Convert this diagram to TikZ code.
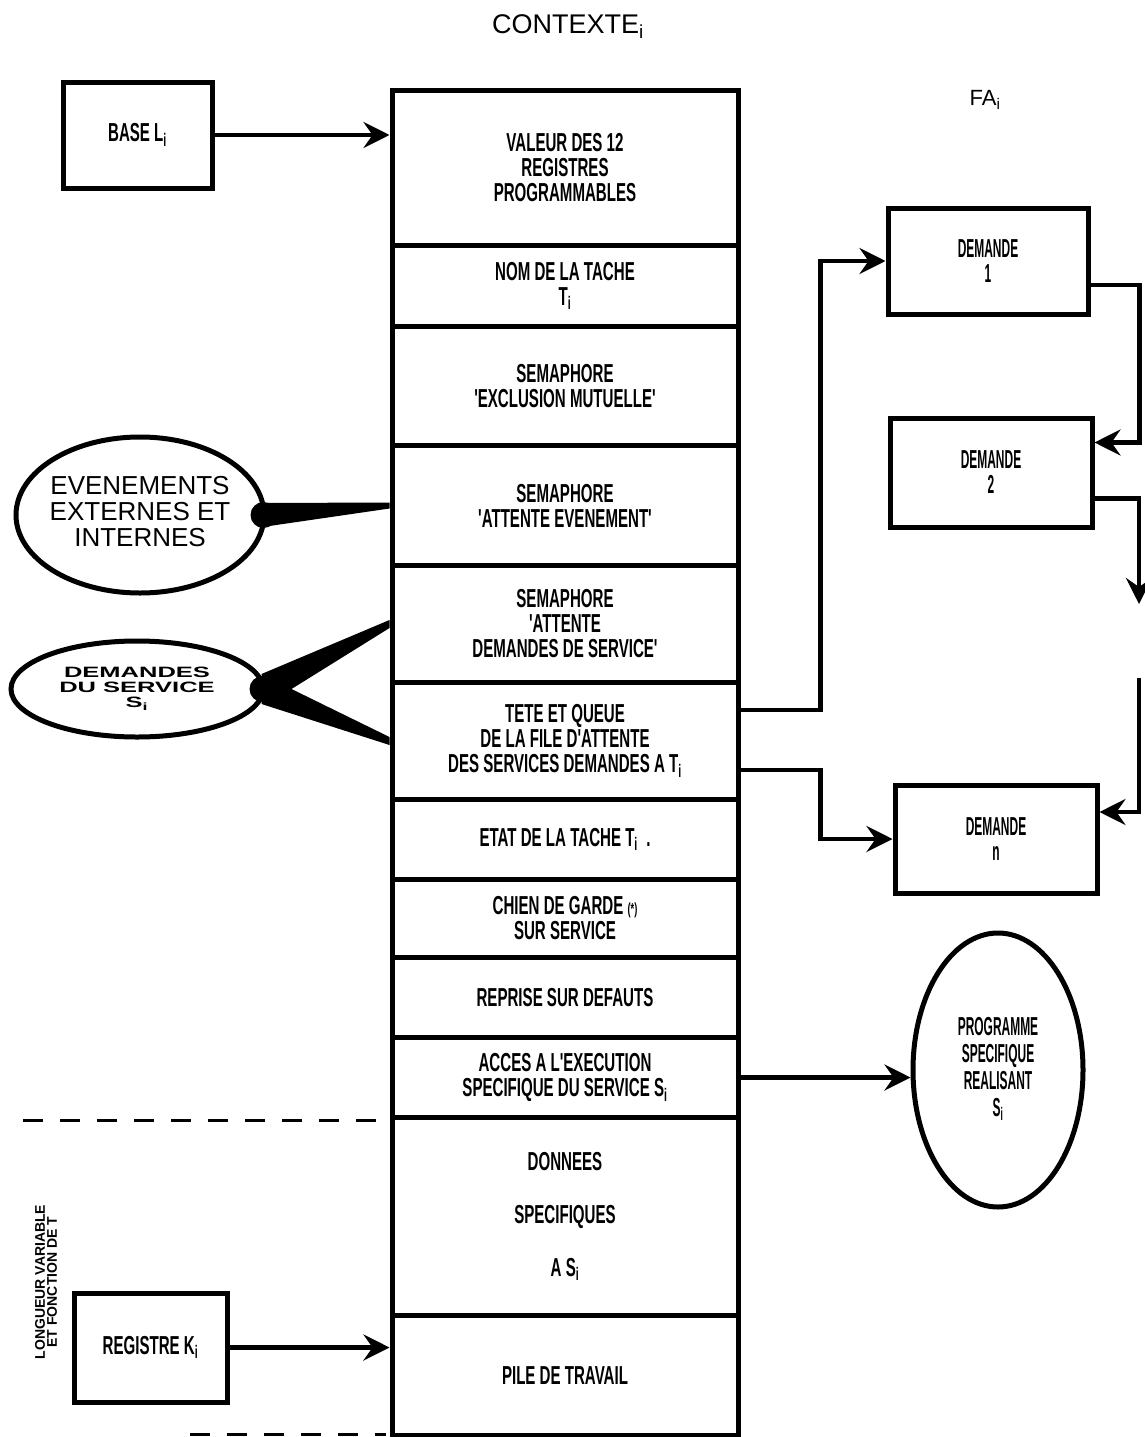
\documentclass[tikz,border=0pt]{standalone}
\usepackage{fontspec}
\usepackage{graphicx}
\usetikzlibrary{arrows.meta,shapes.geometric,calc}
\setmainfont{Liberation Sans}
\newfontfamily\plotfont[FakeStretch=0.58]{Liberation Sans}
\newfontfamily\narrowfont[FakeStretch=0.46]{Liberation Sans}
\newfontfamily\plainfont{Liberation Sans}
\newcommand{\ovaltext}[1]{\smash{\makebox[0pt]{\raisebox{-0.25em}{\begin{tabular}{@{}c@{}}#1\end{tabular}}}}}
\begin{document}
\begin{tikzpicture}[x=1pt,y=-1pt,
  box/.style={draw, line width=5pt, inner sep=0pt, align=center,
    font=\plotfont\bfseries\fontsize{26}{25}\selectfont},
  rowbox/.style={box, minimum width=346pt, anchor=north},
  arr/.style={line width=4.5pt, -{Stealth[length=26pt,width=26pt,inset=9pt]}},
  dashline/.style={line width=3pt, dash pattern=on 20pt off 17pt},
  oval/.style={draw, ellipse, line width=5pt, inner sep=0pt}]
\useasboundingbox[fill=white] (0,0) rectangle (1145,1437);

% titles
\node[font=\plainfont\fontsize{27}{27}\selectfont] (title) at (568,27) {CONTEXTE\textsubscript{i}};
\node[font=\plainfont\fontsize{22}{22}\selectfont] (fa) at (985,100) {FA\textsubscript{i}};

% main column
\node[rowbox, minimum height=155pt] (r1) at (565,88) {VALEUR DES 12\\REGISTRES\\PROGRAMMABLES};
\node[rowbox, minimum height=81pt] (r2) at (565,243) {NOM DE LA TACHE\\T\textsubscript{i}};
\node[rowbox, minimum height=119pt] (r3) at (565,324) {SEMAPHORE\\'EXCLUSION MUTUELLE'};
\node[rowbox, minimum height=120pt] (r4) at (565,443) {SEMAPHORE\\'ATTENTE EVENEMENT'};
\node[rowbox, minimum height=117pt] (r5) at (565,563) {SEMAPHORE\\'ATTENTE\\DEMANDES DE SERVICE'};
\node[rowbox, minimum height=117pt] (r6) at (565,680) {TETE ET QUEUE\\DE LA FILE D'ATTENTE\\DES SERVICES DEMANDES A T\textsubscript{i}};
\node[rowbox, minimum height=80pt] (r7) at (565,797) {ETAT DE LA TACHE T\textsubscript{i}\ \ .};
\node[rowbox, minimum height=78pt] (r8) at (565,877) {CHIEN DE GARDE {\fontsize{16}{16}\selectfont(*)}\\SUR SERVICE};
\node[rowbox, minimum height=80pt] (r9) at (565,955) {REPRISE SUR DEFAUTS};
\node[rowbox, minimum height=80pt] (r10) at (565,1035) {ACCES A L'EXECUTION\\SPECIFIQUE DU SERVICE S\textsubscript{i}};
\node[rowbox, minimum height=198pt] (r11) at (565,1115) {DONNEES\\[28pt]SPECIFIQUES\\[28pt]A S\textsubscript{i}};
\node[rowbox, minimum height=120pt] (r12) at (565,1313) {PILE DE TRAVAIL};

% left boxes
\node[box, minimum width=149pt, minimum height=106pt] (base) at (137.5,135) {BASE L\textsubscript{i}};
\node[box, minimum width=153pt, minimum height=109pt] (reg) at (150.5,1347.5) {REGISTRE K\textsubscript{i}};

% left ellipses
\node[oval, minimum width=248pt, minimum height=156pt,
      font=\plainfont\fontsize{26}{25}\selectfont] (ev) at (140,515)
  {\ovaltext{EVENEMENTS\\EXTERNES ET\\INTERNES}};
\node[oval, minimum width=252pt, minimum height=96pt,
      font=\plainfont\bfseries\fontsize{15}{13}\selectfont] (dem) at (137,689)
  {\ovaltext{\scalebox{1.7}[1]{DEMANDES}\\[1pt]\scalebox{1.7}[1]{DU SERVICE}\\[1pt]\scalebox{1.7}[1]{S\textsubscript{i}}}};

% right side boxes
\node[box, minimum width=200pt, minimum height=106pt, font=\narrowfont\bfseries\fontsize{26}{25}\selectfont] (d1) at (988,261) {DEMANDE\\1};
\node[box, minimum width=202pt, minimum height=109pt, font=\narrowfont\bfseries\fontsize{26}{25}\selectfont] (d2) at (991,472.5) {DEMANDE\\2};
\node[box, minimum width=202pt, minimum height=108pt, font=\narrowfont\bfseries\fontsize{26}{25}\selectfont] (dn) at (996,839) {DEMANDE\\n};
\node[oval, minimum width=170pt, minimum height=274pt,
      font=\narrowfont\bfseries\fontsize{26}{27}\selectfont] (prog) at (998,1070)
  {\ovaltext{PROGRAMME\\SPECIFIQUE\\REALISANT\\S\textsubscript{i}}};

% vertical note
\node[rotate=90, align=center, font=\plainfont\bfseries\fontsize{14}{12}\selectfont] (lv) at (46,1282)
  {LONGUEUR VARIABLE\\ET FONCTION DE T};

% dashed limits
\coordinate (dA) at (23,1120);
\coordinate (dB) at (382,1120);
\coordinate (dC) at (190,1434);
\coordinate (dD) at (386,1434);
\draw[dashline] (dA) -- (dB);
\draw[dashline] (dC) -- (dD);

% connectors
\draw[arr] (base.east) -- (base.east -| r1.west);
\draw[arr] (reg.east) -- (reg.east -| r12.west);
\draw[arr] ([yshift=31pt]r6.east) -- ++(80,0) |- (d1.west);
\draw[arr] ([yshift=-29pt]r6.east) -- ++(80,0) |- (dn.west);
\draw[arr] ([yshift=-24pt]d1.east) -- ++(49,0) |- ([yshift=30pt]d2.east);
\coordinate (gapA) at (1139,604);
\coordinate (gapB) at (1139,678);
\draw[arr] ([yshift=-26pt]d2.east) -| (gapA);
\draw[arr] (gapB) |- ([yshift=27pt]dn.east);
\draw[arr] (r10.east) -- (r10.east -| prog.west);

% wedges from the ellipses
\fill ($(ev.east)+(-4,-12)$) -- ([yshift=3pt]r4.west) -- ([yshift=-3pt]r4.west) -- ($(ev.east)+(-4,12)$) -- cycle;
\fill ($(ev.east)+(-3,0)$) circle[radius=13pt];
\fill ($(dem.east)+(-4,-15)$) -- ([yshift=4pt]r5.west) -- ([yshift=-4pt]r5.west) -- ($(dem.east)+(26,0)$)
  -- ([yshift=4pt]r6.west) -- ([yshift=-4pt]r6.west) -- ($(dem.east)+(-4,15)$) -- cycle;
\fill ($(dem.east)+(-3,0)$) circle[radius=13pt];
\end{tikzpicture}
\end{document}
